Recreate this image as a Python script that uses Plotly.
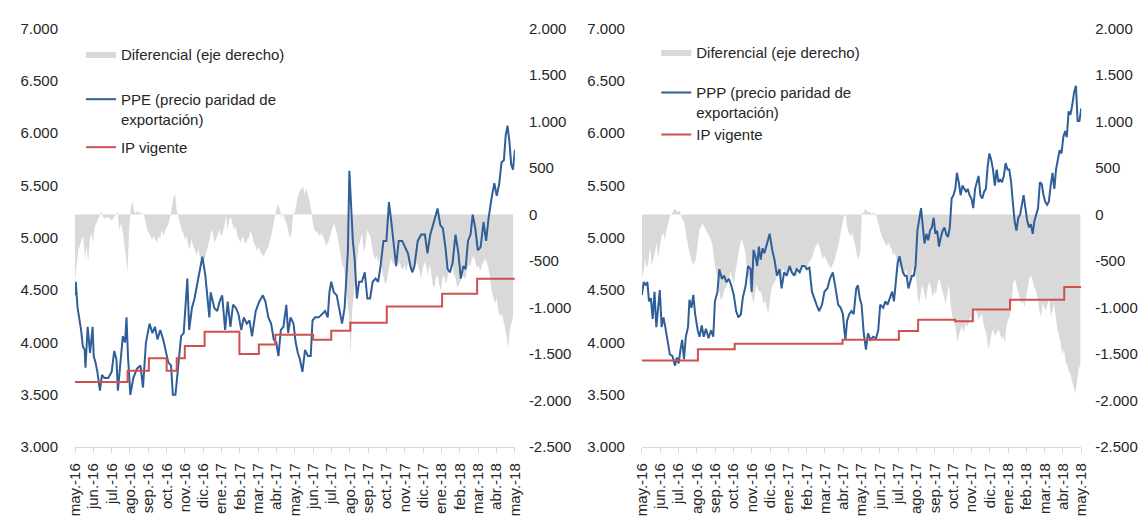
import numpy as np
import plotly.graph_objects as go

# Eje temporal: meses transcurridos desde mayo 2016 (0 = may.-16, 24 = may.-18)
etiquetas_mes = ["may.-16", "jun.-16", "jul.-16", "ago.-16", "sep.-16", "oct.-16", "nov.-16", "dic.-16",
                 "ene.-17", "feb.-17", "mar.-17", "abr.-17", "may.-17", "jun.-17", "jul.-17", "ago.-17",
                 "sep.-17", "oct.-17", "nov.-17", "dic.-17", "ene.-18", "feb.-18", "mar.-18", "abr.-18", "may.-18"]

# ---------------- Panel izquierdo: PPE ----------------
ppe_t = [0.00, 0.04, 0.14, 0.33, 0.43, 0.53, 0.57, 0.69, 0.82, 0.96, 1.02, 1.12, 1.22, 1.36, 1.47, 1.61, 1.81,
         2.00, 2.14, 2.26, 2.34, 2.49, 2.61, 2.73, 2.81, 2.89, 3.02, 3.18, 3.38, 3.57, 3.71, 3.87, 4.07, 4.22,
         4.36, 4.50, 4.65, 4.81, 4.95, 5.09, 5.24, 5.34, 5.48, 5.64, 5.79, 5.93, 6.03, 6.13, 6.23, 6.38, 6.52,
         6.66, 6.81, 6.95, 7.11, 7.25, 7.33, 7.40, 7.60, 7.76, 7.89, 8.03, 8.19, 8.33, 8.48, 8.62, 8.78, 8.92,
         9.07, 9.21, 9.37, 9.52, 9.66, 9.86, 10.05, 10.25, 10.39, 10.55, 10.70, 10.84, 10.98, 11.10, 11.23,
         11.37, 11.53, 11.63, 11.76, 11.92, 12.04, 12.16, 12.27, 12.41, 12.55, 12.71, 12.86, 12.96, 13.10,
         13.30, 13.49, 13.65, 13.79, 13.88, 13.98, 14.12, 14.28, 14.43, 14.57, 14.71, 14.81, 14.89, 14.97,
         15.06, 15.16, 15.26, 15.38, 15.50, 15.65, 15.81, 15.95, 16.10, 16.24, 16.40, 16.54, 16.67, 16.83,
         16.99, 17.13, 17.26, 17.42, 17.52, 17.66, 17.85, 18.01, 18.17, 18.30, 18.40, 18.52, 18.70, 18.89,
         19.09, 19.23, 19.38, 19.58, 19.78, 19.93, 20.07, 20.21, 20.33, 20.46, 20.60, 20.76, 20.92, 21.05,
         21.19, 21.31, 21.44, 21.58, 21.70, 21.84, 21.98, 22.13, 22.29, 22.43, 22.56, 22.72, 22.88, 23.01,
         23.15, 23.27, 23.40, 23.50, 23.60, 23.70, 23.80, 23.90, 24.00]
ppe_v = [4450, 4580, 4330, 4120, 3960, 3930, 3760, 4150, 3900, 4150, 3870, 3810, 3720, 3540, 3690, 3660, 3660,
         3720, 3920, 3840, 3540, 3810, 4060, 4000, 4240, 3870, 3500, 3660, 3750, 3780, 3570, 4000, 4180, 4090,
         4150, 4030, 4120, 4030, 3930, 3810, 3780, 3500, 3500, 3810, 4060, 4090, 4360, 4610, 4120, 4330, 4420,
         4540, 4670, 4820, 4640, 4420, 4240, 4480, 4330, 4300, 4390, 4450, 4120, 4390, 4150, 4360, 4330, 4270,
         4120, 4240, 4180, 4210, 4060, 4300, 4390, 4450, 4390, 4240, 4180, 4030, 4000, 3870, 4120,
         4150, 4360, 4090, 4240, 4180, 4000, 3900, 3840, 3720, 3930, 3870, 3870, 4210, 4240,
         4240, 4270, 4300, 4240, 4480, 4580, 4480, 4450, 4300, 4180, 4330, 4580, 4880, 5640,
         5280, 4970, 4790, 4420, 4580, 4580, 4670, 4420, 4420, 4580, 4610, 4580, 4730, 4970,
         4970, 5340, 5150, 4850, 4730, 4970, 4970, 4910, 4850, 4730, 4670, 4730, 4970, 5030,
         5030, 4850, 5030, 5150, 5280, 5120, 5090, 4910, 4700, 4670, 4760, 5030, 4850, 4610,
         4730, 4700, 4970, 5030, 5220, 5090, 4880, 4910, 5150, 4970, 5180, 5370, 5520, 5400,
         5520, 5720, 5740, 5980, 6070, 5920, 5700, 5650, 5840]

ip_izq_t = [0, 2.87, 4.03, 5.00, 5.55, 5.99, 7.07, 8.97, 10.03, 10.93, 12.99, 13.98, 15.02, 17.01, 20.03, 21.94, 24.0]
ip_izq_v = [3622, 3730, 3849, 3730, 3849, 3966, 4103, 3889, 3981, 4073, 4027, 4113, 4189, 4343, 4465, 4609, 4609]

# Diferencial (eje derecho), muestras equiespaciadas de may.-16 a fines de abr.-18
dif_izq = [-719, -511, -373, -339, -269, -235, -477, -339, -511, -269, -200, -304, -131, -97, -62, -10, 41, -28,
           -45, -35, -28, -40, -62, -50, -28, -10, 24, -166, -97, -166, -339, -511, -615, -166, 76, 145, 41, 7,
           41, 20, 7, 10, -10, -79, -166, -200, -235, -269, -235, -269, -304, -235, -252, -166, -235, -166,
           -131, -97, -28, 76, 180, 214, 41, -28, -97, -166, -200, -269, -235, -339, -373, -269, -339, -373,
           -442, -373, -442, -511, -494, -477, -408, -339, -269, -166, -200, -304, -269, -218, -166, -235,
           -200, -131, -10, -166, -62, -28, -97, -166, -131, -235, -269, -304, -235, -269, -321, -269, -252,
           -166, -235, -304, -339, -390, -339, -408, -425, -460, -408, -373, -339, -269, -200, -97, 7, 76,
           111, 24, -28, 7, -62, -97, -166, -252, -200, 7,
           24, 145, 214, 249, 283, 300, 214, 283, 214, 145, 41, -97, -166, -183, -200, -235, -200, -235, -269,
           -339, -304, -269, -200, -131, -97, -166, -235, -339, -442, -546, -580, -753, -891, -1099, -1513,
           -1030, -822, -684, -477, -339, -269, -200, -408, -339, -166, -200, -235, -339, -442, -477, -442,
           -529, -442, -580, -684, -753, -719, -615, -511, -477, -546, -511, -477, -546, -511, -580, -580,
           -546, -615, -511, -580, -615, -580, -477, -511, -546, -615, -684, -580, -511, -546, -650, -546,
           -615, -753, -788, -684, -650, -753, -822, -684, -650, -753, -684, -546, -580, -511, -650, -684,
           -788, -753, -719, -615, -684, -684, -580, -546, -546, -477, -442, -511, -580, -546, -615, -546,
           -511, -477, -511, -580, -684, -822, -891, -960, -891, -1030, -1099, -1064, -1133, -1202, -1306,
           -1444, -1237, -1168, -1099]

# ---------------- Panel derecho: PPP ----------------
ppp_t = [0.00, 0.10, 0.20, 0.30, 0.39, 0.49, 0.59, 0.69, 0.79, 0.98, 1.08, 1.18, 1.28, 1.42, 1.53, 1.67, 1.81,
         1.91, 2.01, 2.11, 2.20, 2.30, 2.40, 2.52, 2.60, 2.71, 2.81, 2.91, 3.05, 3.15, 3.27, 3.38, 3.50, 3.64,
         3.78, 3.90, 3.99, 4.13, 4.23, 4.37, 4.49, 4.62, 4.76, 4.88, 5.02, 5.15, 5.27, 5.41, 5.51, 5.67, 5.80,
         5.94, 6.00, 6.10, 6.20, 6.30, 6.39, 6.49, 6.59, 6.69, 6.83, 6.98, 7.12, 7.24, 7.38, 7.52, 7.63, 7.77,
         7.91, 8.07, 8.20, 8.32, 8.46, 8.62, 8.75, 8.89, 9.01, 9.15, 9.29, 9.40, 9.54, 9.68, 9.84, 9.97, 10.13,
         10.27, 10.43, 10.58, 10.72, 10.86, 10.98, 11.06, 11.12, 11.21, 11.33, 11.45, 11.57, 11.71, 11.80,
         11.90, 12.00, 12.12, 12.24, 12.35, 12.49, 12.63, 12.79, 12.91, 13.02, 13.18, 13.30, 13.42, 13.54,
         13.67, 13.77, 13.87, 13.97, 14.07, 14.16, 14.26, 14.36, 14.46, 14.56, 14.66, 14.75, 14.85, 14.95,
         15.05, 15.15, 15.25, 15.35, 15.44, 15.54, 15.64, 15.74, 15.84, 15.94, 16.03, 16.13, 16.23, 16.33,
         16.43, 16.53, 16.62, 16.72, 16.82, 16.92, 17.02, 17.12, 17.21, 17.31, 17.41, 17.51, 17.61, 17.71,
         17.80, 17.90, 18.00, 18.10, 18.20, 18.30, 18.39, 18.49, 18.59, 18.69, 18.79, 18.89, 18.98, 19.08,
         19.18, 19.28, 19.38, 19.48, 19.57, 19.67, 19.77, 19.87, 19.97, 20.07, 20.17, 20.26, 20.36, 20.46,
         20.56, 20.66, 20.76, 20.85, 20.95, 21.05, 21.15, 21.25, 21.35, 21.44, 21.54, 21.64, 21.74, 21.84,
         21.94, 22.03, 22.13, 22.23, 22.33, 22.43, 22.53, 22.62, 22.72, 22.82, 22.92, 23.02, 23.12, 23.21,
         23.31, 23.41, 23.51, 23.61, 23.71, 23.80, 23.90, 24.00]
ppp_v = [4454, 4577, 4546, 4577, 4393, 4423, 4224, 4485, 4147, 4500, 4147, 4240, 4147, 3994, 3887, 3871, 3779,
         3856, 3800, 3933, 4025, 3840, 4055, 4147, 4408, 4331, 4454, 4270, 4117, 4055, 4162, 4055, 4132, 4040,
         4117, 4055, 4393, 4485, 4700, 4608, 4638, 4577, 4608, 4546, 4454, 4300, 4240, 4270, 4424, 4546, 4730,
         4700, 4485, 4884, 4823, 4730, 4915, 4792, 4900, 4853, 4945, 5037, 4884, 4792, 4638, 4700, 4516, 4669,
         4638, 4730, 4669, 4638, 4700, 4669, 4730, 4730, 4700, 4715, 4485, 4424, 4362, 4300, 4362, 4485, 4516,
         4608, 4669, 4516, 4362, 4331, 4270, 4117, 4025, 4209, 4270, 4300, 4270, 4516, 4546,
         4424, 4362, 4086, 3933, 4086, 4025, 4055, 4040, 4117, 4362, 4331, 4393, 4362, 4424,
         4485, 4393, 4577, 4761, 4823, 4761, 4669, 4638, 4638, 4516, 4577, 4638, 4638, 4730,
         5068, 5160, 5283, 5099, 4945, 5037, 4976, 5068, 5099, 5191, 5037, 5068, 4915, 5007,
         5068, 5099, 5037, 5007, 5099, 5375, 5406, 5467, 5620, 5529, 5406, 5498, 5467, 5437,
         5467, 5406, 5375, 5283, 5467, 5529, 5590, 5406, 5375, 5437, 5467, 5682, 5805, 5744,
         5651, 5498, 5651, 5529, 5559, 5529, 5590, 5713, 5651, 5651, 5529, 5344, 5160, 5068,
         5191, 5221, 5344, 5406, 5283, 5160, 5099, 5130, 5037, 5160, 5221, 5283, 5529, 5513,
         5406, 5344, 5314, 5344, 5498, 5620, 5467, 5651, 5744, 5836, 5805, 5959, 6020, 5959,
         6206, 6175, 6267, 6390, 6451, 6114, 6114, 6236]

ip_der_t = [0, 3.06, 5.07, 10.96, 14.04, 15.09, 17.11, 18.08, 20.11, 23.07, 24.0]
ip_der_v = [3828, 3935, 3987, 4027, 4110, 4217, 4202, 4315, 4407, 4529, 4529]

dif_der = [-684, -615, -477, -580, -511, -339, -546, -477, -408, -304, -477, -339, -235, -200, -269, -166, -97,
           -28, 7, 24, 59, 41, 24, 41, -28, -62, -97, -235, -339, -408, -477, -546, -511, -477, -304, -166,
           -131, -97, -131, -166, -200, -235, -269, -339, -511, -615, -684, -822, -926, -891, -822, -788,
           -753, -684, -615, -684, -753, -615, -511, -442, -304, -269, -339, -408, -615, -684, -822, -891,
           -960, -822, -753, -822, -822, -857, -960, -926, -995, -1064, -926, -788, -753, -719, -684, -615,
           -650, -684, -580, -615, -684, -580, -615, -650, -580, -615, -684, -580, -615, -546, -580, -511,
           -615, -546, -511, -477, -442, -373, -339, -304, -339, -408, -477, -442, -477, -511, -546, -580,
           -546, -511, -442, -373, -304, -200, -97, -28, 7, -131, -200, -235, -200, -269, -339, -442, -477,
           -408,
           24, 7, 59, 41, 24, 24, 7, 24, 7, -28, -97, -166, -235, -269, -304, -339, -304, -339, -373, -442,
           -408, -477, -546, -580, -546, -615, -650, -580, -684, -753, -650, -580, -615, -684, -891, -960,
           -822, -753, -857, -926, -788, -719, -788, -891, -822, -857, -753, -684, -753, -822, -891, -960,
           -857, -753, -960, -1099, -1133, -1202, -1375, -1306, -1237, -1202, -1271, -1168, -1202, -1168,
           -1099, -1168, -1030, -995, -1064, -1133, -1099, -1064, -1168, -1237, -1306, -1444, -1375, -1271,
           -1237, -1306, -1271, -1237, -1271, -1340, -1306, -1375, -1202, -1133, -1099, -960, -753, -684,
           -753, -822, -891, -960, -926, -995, -891, -788, -684, -650, -719, -788, -822, -891, -1030, -1099,
           -960, -995, -1030, -960, -891, -1099, -1030, -960, -1099, -1237, -1306, -1375, -1513, -1444,
           -1582, -1617, -1686, -1721, -1790, -1859, -1928, -1790, -1651, -1617]

# ---------------- Estilos ----------------
AZUL = "#2f5e98"
ROJO = "#d0504e"
GRIS = "#d9d9d9"
TXT = "#262626"
FONT = "Liberation Sans, Arial, sans-serif"
FS = 15

dif_izq_t = np.linspace(0, 23.9, len(dif_izq))
dif_der_t = np.linspace(0, 23.95, len(dif_der))

fig = go.Figure()

# Left panel
fig.add_trace(go.Scatter(x=dif_izq_t, y=dif_izq, xaxis="x", yaxis="y", mode="lines", fill="tozeroy",
                         fillcolor=GRIS, line=dict(width=0, color=GRIS), name="Diferencial (eje derecho)",
                         legend="legend"))
fig.add_trace(go.Scatter(x=ppe_t, y=ppe_v, xaxis="x", yaxis="y2", mode="lines", line=dict(color=AZUL, width=2),
                         name="PPE (precio paridad de<br>exportación)", legend="legend3", legendgroup="a"))
fig.add_trace(go.Scatter(x=ip_izq_t, y=ip_izq_v, xaxis="x", yaxis="y2", mode="lines", line_shape="hv",
                         line=dict(color=ROJO, width=2), name="IP vigente", legend="legend3", legendgroup="b"))

# Right panel
fig.add_trace(go.Scatter(x=dif_der_t, y=dif_der, xaxis="x2", yaxis="y3", mode="lines", fill="tozeroy",
                         fillcolor=GRIS, line=dict(width=0, color=GRIS), name="Diferencial (eje derecho)",
                         legend="legend2"))
fig.add_trace(go.Scatter(x=ppp_t, y=ppp_v, xaxis="x2", yaxis="y4", mode="lines", line=dict(color=AZUL, width=2),
                         name="PPP (precio paridad de<br>exportación)", legend="legend4", legendgroup="c"))
fig.add_trace(go.Scatter(x=ip_der_t, y=ip_der_v, xaxis="x2", yaxis="y4", mode="lines", line_shape="hv",
                         line=dict(color=ROJO, width=2), name="IP vigente", legend="legend4", legendgroup="d"))

W, H = 1146, 516
ydom = [1 - 455 / H, 1 - 20 / H]

left_vals = list(range(3000, 7001, 500))
left_text = [f"{v:,}".replace(",", ".") for v in left_vals]
right_vals = list(range(-2500, 2001, 500))
right_text = [f"{v:,}".replace(",", ".") for v in right_vals]

xcommon = dict(range=[0, 24], tickvals=list(range(25)), ticktext=etiquetas_mes, tickangle=-90,
               showgrid=False, zeroline=False, showline=True, linecolor=GRIS, linewidth=1,
               ticks="outside", ticklen=5, tickcolor=GRIS, ticklabelstandoff=4,
               tickfont=dict(size=FS, color=TXT, family=FONT))
yright = dict(range=[-2500, 2000], tickvals=right_vals, ticktext=right_text, side="right",
              showgrid=False, zeroline=False, showline=False, ticks="", ticklabelstandoff=13,
              tickfont=dict(size=FS, color=TXT, family=FONT))
yleft = dict(range=[3000, 7000], tickvals=left_vals, ticktext=left_text, side="left",
             showgrid=False, zeroline=False, showline=False, ticks="", ticklabelstandoff=16,
             tickfont=dict(size=FS, color=TXT, family=FONT))

legfont = dict(size=FS, color=TXT, family=FONT)
legbase = dict(bgcolor="rgba(0,0,0,0)", font=legfont, xanchor="left", yanchor="top", itemwidth=30,
               valign="top", borderwidth=0)

fig.update_layout(
    width=W, height=H, margin=dict(l=0, r=0, t=0, b=0),
    paper_bgcolor="white", plot_bgcolor="white",
    font=dict(family=FONT, color=TXT, size=FS),
    showlegend=True,
    xaxis=dict(domain=[67 / W, 513.5 / W], anchor="y", **xcommon),
    yaxis=dict(domain=ydom, anchor="x", **yright),
    yaxis2=dict(overlaying="y", anchor="x", **yleft),
    xaxis2=dict(domain=[642.4 / W, 1088.4 / W], anchor="y3", **xcommon),
    yaxis3=dict(domain=ydom, anchor="x2", **yright),
    yaxis4=dict(overlaying="y3", anchor="x2", **yleft),
    legend=dict(x=73 / W, y=1 - 29.75 / H, **legbase),
    legend3=dict(x=73 / W, y=1 - 76.75 / H, tracegroupgap=6, **legbase),
    legend2=dict(x=657 / W, y=1 - 27.75 / H, **legbase),
    legend4=dict(x=657 / W, y=1 - 69.75 / H, tracegroupgap=0, **legbase),
)

fig.write_html("out.html", config={"displayModeBar": False},
               post_script="document.body.style.margin='0';document.body.style.overflow='hidden';")
